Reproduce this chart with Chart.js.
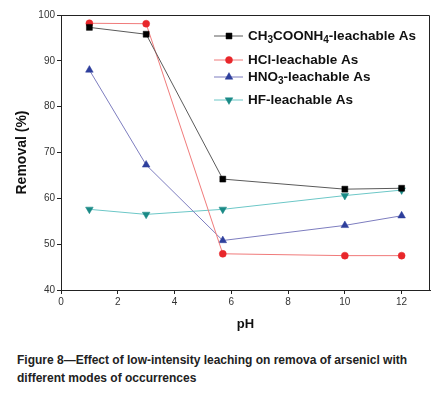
<!DOCTYPE html>
<html>
<head>
<meta charset="utf-8">
<script src="https://cdn.jsdelivr.net/npm/chart.js@4/dist/chart.umd.min.js"></script>
<style>
  html, body { margin: 0; padding: 0; background: #fff; }
  #wrap { position: relative; width: 443px; height: 396px; }
  #box { position: absolute; left: 0; top: 0; width: 443px; height: 340px; }
  #caption { position: absolute; left: 17px; top: 351px; width: 426px; font-family: "Liberation Sans", Arial, sans-serif; font-weight: bold; font-size: 12px; line-height: 18px; color: #222; }
</style>
</head>
<body>
<div id="wrap">
  <div id="box"><canvas id="c"></canvas></div>
  <div id="caption">Figure 8—Effect of low-intensity leaching on remova of arsenicl with<br>different modes of occurrences</div>
</div>
<script>
// ---- data ----
const pH = [1, 3, 5.7, 10, 12];
const ch3coonh4 = [97.3, 95.8, 64.2, 62.0, 62.2];
const hcl = [98.2, 98.1, 47.9, 47.5, 47.5];
const hno3 = [88.0, 67.3, 50.8, 54.1, 56.2];
const hf = [57.6, 56.5, 57.6, 60.6, 61.8];
const seriesNames = ['CH3COONH4-leachable As', 'HCl-leachable As', 'HNO3-leachable As', 'HF-leachable As'];
// legend labels with subscripts as segments [text, isSub]
const legendParts = [
  [['CH', 0], ['3', 1], ['COONH', 0], ['4', 1], ['-leachable As', 0]],
  [['HCl-leachable As', 0]],
  [['HNO', 0], ['3', 1], ['-leachable As', 0]],
  [['HF-leachable As', 0]]
];
const xTicks = [0, 2, 4, 6, 8, 10, 12];
const yTicks = [40, 50, 60, 70, 80, 90, 100];

const FONT = '"Liberation Sans", Arial, sans-serif';
const toPts = ys => ys.map((y, i) => ({x: pH[i], y: y}));

const styles = [
  {line: '#5a5a5a', fill: '#000000', pt: 'rect', r: 4.2, rot: 0},
  {line: '#f07a7a', fill: '#e8272b', pt: 'circle', r: 3.5, rot: 0},
  {line: '#7d7dbf', fill: '#2e3f9c', pt: 'triangle', r: 4.4, rot: 0},
  {line: '#6cc7c7', fill: '#1a8a86', pt: 'triangle', r: 4.4, rot: 180}
];
const allData = [ch3coonh4, hcl, hno3, hf];

const datasets = allData.map((d, i) => ({
  label: seriesNames[i],
  data: toPts(d),
  borderColor: styles[i].line,
  borderWidth: 1,
  backgroundColor: styles[i].fill,
  pointBackgroundColor: styles[i].fill,
  pointBorderColor: styles[i].fill,
  pointBorderWidth: 0.5,
  pointStyle: styles[i].pt,
  pointRotation: styles[i].rot,
  pointRadius: styles[i].r,
  tension: 0
}));

const frame = {
  id: 'frame',
  afterDraw(chart) {
    const {ctx, chartArea: a} = chart;
    ctx.save();
    ctx.strokeStyle = '#222';
    ctx.lineWidth = 1;
    ctx.beginPath();
    ctx.moveTo(a.left, a.top + 0.5);
    ctx.lineTo(a.right - 0.5, a.top + 0.5);
    ctx.lineTo(a.right - 0.5, a.bottom);
    ctx.stroke();
    ctx.restore();
  }
};

const legendPlugin = {
  id: 'customLegend',
  afterDraw(chart) {
    const {ctx} = chart;
    const rows = [36, 60, 77, 100];
    ctx.save();
    rows.forEach((y, i) => {
      ctx.strokeStyle = styles[i].line;
      ctx.lineWidth = 1;
      ctx.beginPath();
      ctx.moveTo(214, y);
      ctx.lineTo(243, y);
      ctx.stroke();
      ctx.fillStyle = styles[i].fill;
      ctx.strokeStyle = styles[i].fill;
      ctx.lineWidth = 0.5;
      Chart.helpers.drawPoint(ctx, {pointStyle: styles[i].pt, radius: styles[i].r, rotation: styles[i].rot, borderWidth: 0.5}, 229, y);
      let x = 248;
      ctx.fillStyle = '#111';
      ctx.textBaseline = 'middle';
      ctx.textAlign = 'left';
      legendParts[i].forEach(([t, sub]) => {
        ctx.font = sub ? 'bold 10px ' + FONT : 'bold 13.5px ' + FONT;
        ctx.fillText(t, x, sub ? y + 4 : y);
        x += ctx.measureText(t).width;
      });
    });
    ctx.restore();
  }
};

new Chart(document.getElementById('c'), {
  type: 'line',
  data: {datasets},
  options: {
    responsive: true,
    maintainAspectRatio: false,
    animation: false,
    layout: {padding: {top: 15, right: 13, left: 0, bottom: 0}},
    plugins: {legend: {display: false}, tooltip: {enabled: false}},
    scales: {
      x: {
        type: 'linear',
        min: 0, max: 13,
        afterBuildTicks: s => { s.ticks = xTicks.map(v => ({value: v})); },
        afterFit: s => { s.height = 50; },
        ticks: {font: {family: FONT, size: 10}, color: '#333', padding: 2, maxRotation: 0},
        grid: {display: true, drawOnChartArea: false, drawTicks: true, tickLength: 4, color: '#222'},
        border: {display: true, color: '#222', width: 1},
        title: {display: true, text: 'pH', font: {family: FONT, size: 13, weight: 'bold'}, color: '#111', padding: {top: 0, bottom: 8}}
      },
      y: {
        min: 40, max: 100,
        afterBuildTicks: s => { s.ticks = yTicks.map(v => ({value: v})); },
        afterFit: s => { s.width = 61; },
        ticks: {font: {family: FONT, size: 10}, color: '#333', padding: 2},
        grid: {display: true, drawOnChartArea: false, drawTicks: true, tickLength: 4, color: '#222'},
        border: {display: true, color: '#222', width: 1},
        title: {display: true, text: 'Removal (%)', font: {family: FONT, size: 14, weight: 'bold'}, color: '#111', padding: {top: 14, bottom: 0}}
      }
    }
  },
  plugins: [frame, legendPlugin]
});
</script>
</body>
</html>
